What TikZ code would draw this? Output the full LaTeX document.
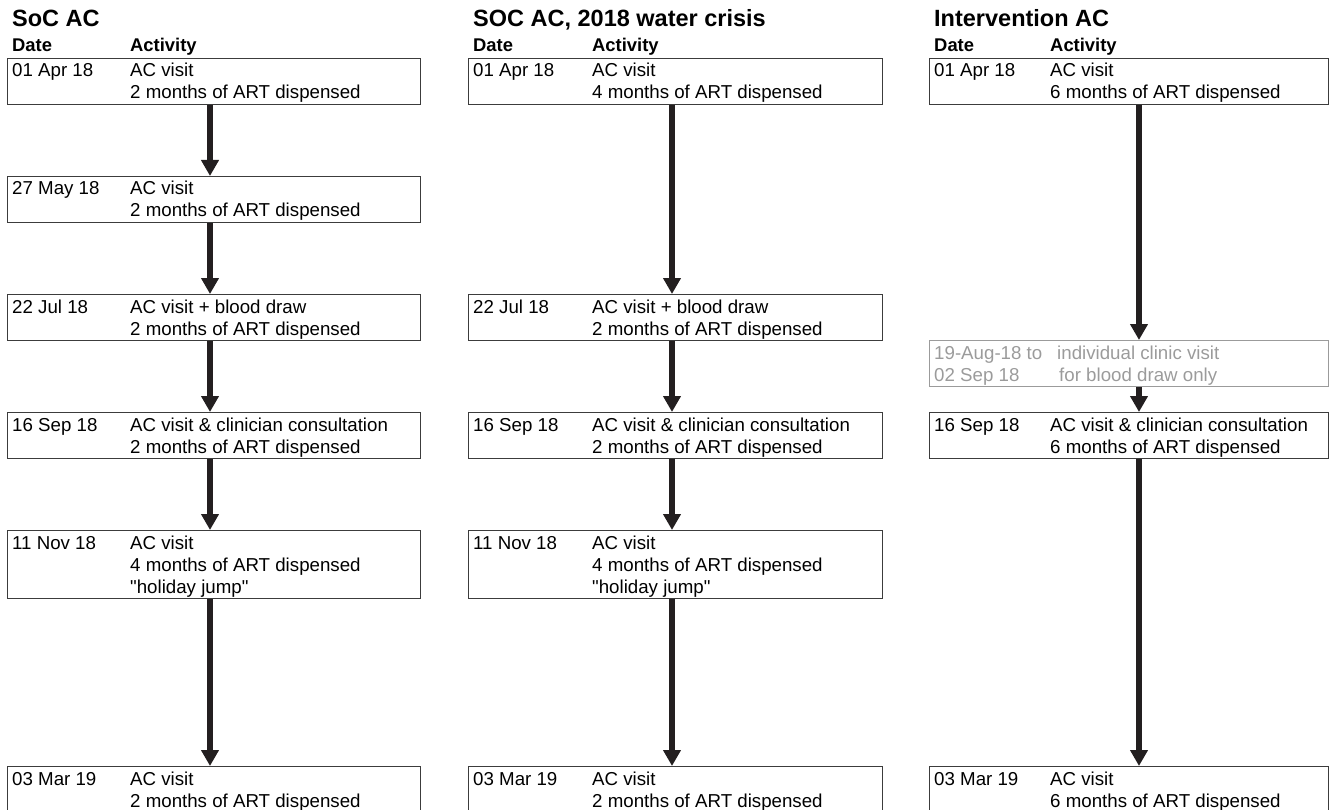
\documentclass[tikz,border=0pt]{standalone}
\usepackage{fontspec}
\setmainfont{Liberation Sans}
\usetikzlibrary{arrows.meta,calc}
\definecolor{boxc}{HTML}{3C3C3C}
\definecolor{arrc}{HTML}{231F20}
\definecolor{greyc}{HTML}{9B9B9B}
\begin{document}
\begin{tikzpicture}[x=1pt,y=-1pt,
 box/.style={draw=boxc,line width=1.3pt,anchor=north west,inner sep=0pt,minimum height=46pt},
 tallbox/.style={box,minimum height=68pt},
 gbox/.style={box,draw=greyc},
 txt/.style={anchor=base west,inner sep=0pt,font=\fontsize{18.7}{22}\selectfont,text=black},
 gtxt/.style={txt,text=greyc},
 hdr/.style={anchor=base west,inner sep=0pt,font=\fontsize{18.4}{22}\selectfont\bfseries},
 ttl/.style={anchor=base west,inner sep=0pt,font=\fontsize{23.5}{28}\selectfont\bfseries},
 arr/.style={draw=arrc,line width=5.5pt,-{Triangle[width=17pt,length=16pt]}}]
\useasboundingbox (0,0) rectangle (1329,810);
\clip (0,0) rectangle (1329,810);

% ---------- column 1 ----------
\node[ttl] (t1) at (12,27) {SoC AC};
\node[hdr] (h1d) at (12,52) {Date};
\node[hdr] (h1a) at (130,52) {Activity};

\node[box,minimum width=413pt] (a0) at (7,58) {};
\node[txt] (a0d) at (12,77) {01 Apr 18};
\node[txt] (a0l1) at (130,77) {AC visit};
\node[txt] (a0l2) at (130,99) {2 months of ART dispensed};

\node[box,minimum width=413pt] (a1) at (7,176) {};
\node[txt] (a1d) at (12,195) {27 May 18};
\node[txt] (a1l1) at (130,195) {AC visit};
\node[txt] (a1l2) at (130,217) {2 months of ART dispensed};

\node[box,minimum width=413pt] (a2) at (7,294) {};
\node[txt] (a2d) at (12,313) {22 Jul 18};
\node[txt] (a2l1) at (130,313) {AC visit + blood draw};
\node[txt] (a2l2) at (130,335) {2 months of ART dispensed};

\node[box,minimum width=413pt] (a3) at (7,412) {};
\node[txt] (a3d) at (12,431) {16 Sep 18};
\node[txt] (a3l1) at (130,431) {AC visit \& clinician consultation};
\node[txt] (a3l2) at (130,453) {2 months of ART dispensed};

\node[tallbox,minimum width=413pt] (a4) at (7,530) {};
\node[txt] (a4d) at (12,549) {11 Nov 18};
\node[txt] (a4l1) at (130,549) {AC visit};
\node[txt] (a4l2) at (130,571) {4 months of ART dispensed};
\node[txt] (a4l3) at (130,593) {\textquotedbl holiday jump\textquotedbl};

\node[box,minimum width=413pt] (a6) at (7,766) {};
\node[txt] (a6d) at (12,785) {03 Mar 19};
\node[txt] (a6l1) at (130,785) {AC visit};
\node[txt] (a6l2) at (130,807) {2 months of ART dispensed};

\coordinate (ax) at (210,0);
\draw[arr] (a0.south -| ax) -- (a1.north -| ax);
\draw[arr] (a1.south -| ax) -- (a2.north -| ax);
\draw[arr] (a2.south -| ax) -- (a3.north -| ax);
\draw[arr] (a3.south -| ax) -- (a4.north -| ax);
\draw[arr] (a4.south -| ax) -- (a6.north -| ax);

% ---------- column 2 ----------
\node[ttl] (t2) at (473,27) {SOC AC, 2018 water crisis};
\node[hdr] (h2d) at (473,52) {Date};
\node[hdr] (h2a) at (592,52) {Activity};

\node[box,minimum width=414pt] (b0) at (468,58) {};
\node[txt] (b0d) at (473,77) {01 Apr 18};
\node[txt] (b0l1) at (592,77) {AC visit};
\node[txt] (b0l2) at (592,99) {4 months of ART dispensed};

\node[box,minimum width=414pt] (b2) at (468,294) {};
\node[txt] (b2d) at (473,313) {22 Jul 18};
\node[txt] (b2l1) at (592,313) {AC visit + blood draw};
\node[txt] (b2l2) at (592,335) {2 months of ART dispensed};

\node[box,minimum width=414pt] (b3) at (468,412) {};
\node[txt] (b3d) at (473,431) {16 Sep 18};
\node[txt] (b3l1) at (592,431) {AC visit \& clinician consultation};
\node[txt] (b3l2) at (592,453) {2 months of ART dispensed};

\node[tallbox,minimum width=414pt] (b4) at (468,530) {};
\node[txt] (b4d) at (473,549) {11 Nov 18};
\node[txt] (b4l1) at (592,549) {AC visit};
\node[txt] (b4l2) at (592,571) {4 months of ART dispensed};
\node[txt] (b4l3) at (592,593) {\textquotedbl holiday jump\textquotedbl};

\node[box,minimum width=414pt] (b6) at (468,766) {};
\node[txt] (b6d) at (473,785) {03 Mar 19};
\node[txt] (b6l1) at (592,785) {AC visit};
\node[txt] (b6l2) at (592,807) {2 months of ART dispensed};

\coordinate (bx) at (672,0);
\draw[arr] (b0.south -| bx) -- (b2.north -| bx);
\draw[arr] (b2.south -| bx) -- (b3.north -| bx);
\draw[arr] (b3.south -| bx) -- (b4.north -| bx);
\draw[arr] (b4.south -| bx) -- (b6.north -| bx);

% ---------- column 3 ----------
\node[ttl] (t3) at (934,27) {Intervention AC};
\node[hdr] (h3d) at (934,52) {Date};
\node[hdr] (h3a) at (1050,52) {Activity};

\node[box,minimum width=399pt] (c0) at (929,58) {};
\node[txt] (c0d) at (934,77) {01 Apr 18};
\node[txt] (c0l1) at (1050,77) {AC visit};
\node[txt] (c0l2) at (1050,99) {6 months of ART dispensed};

\node[gbox,minimum width=399pt] (cg) at (929,340) {};
\node[gtxt] (cgd1) at (934,359) {19-Aug-18 to};
\node[gtxt] (cgd2) at (934,381) {02 Sep 18};
\node[gtxt] (cgl1) at (1057,359) {individual clinic visit};
\node[gtxt] (cgl2) at (1059,381) {for blood draw only};

\node[box,minimum width=399pt] (c3) at (929,412) {};
\node[txt] (c3d) at (934,431) {16 Sep 18};
\node[txt] (c3l1) at (1050,431) {AC visit \& clinician consultation};
\node[txt] (c3l2) at (1050,453) {6 months of ART dispensed};

\node[box,minimum width=399pt] (c6) at (929,766) {};
\node[txt] (c6d) at (934,785) {03 Mar 19};
\node[txt] (c6l1) at (1050,785) {AC visit};
\node[txt] (c6l2) at (1050,807) {6 months of ART dispensed};

\coordinate (cx) at (1139,0);
\draw[arr] (c0.south -| cx) -- (cg.north -| cx);
\draw[arr] (cg.south -| cx) -- (c3.north -| cx);
\draw[arr] (c3.south -| cx) -- (c6.north -| cx);
\end{tikzpicture}
\end{document}
